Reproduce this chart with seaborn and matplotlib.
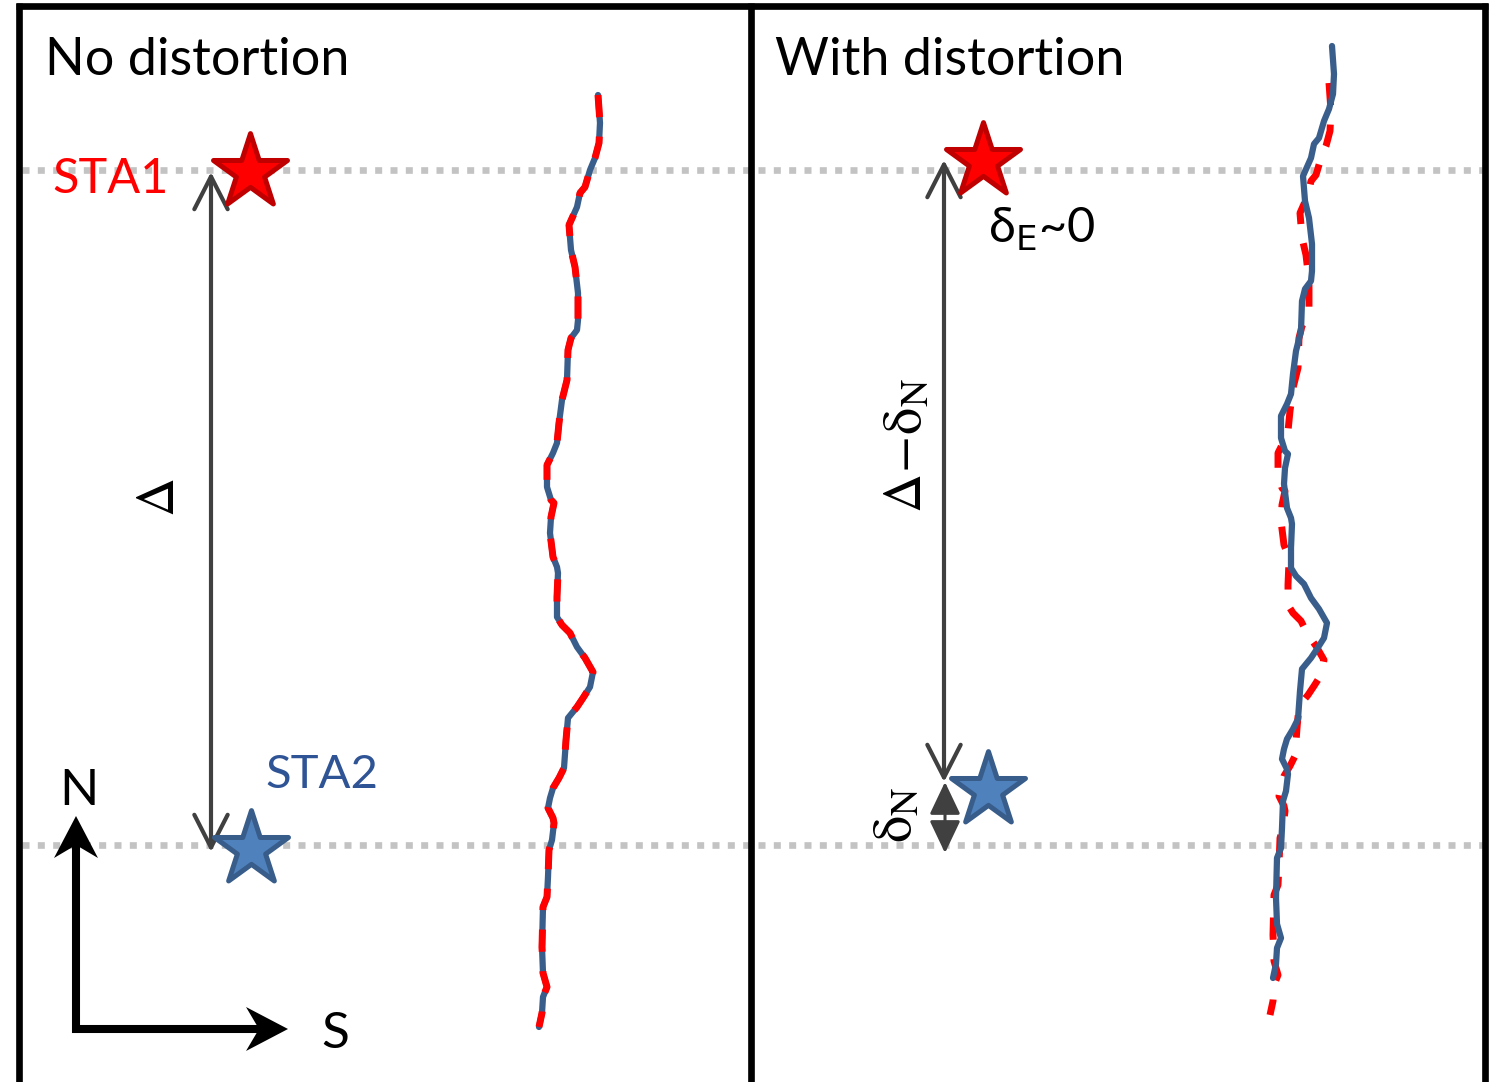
import matplotlib
matplotlib.use('Agg')  # headless
import numpy as np
import matplotlib.pyplot as plt
from matplotlib.patches import Polygon
import seaborn as sns

sns.set_theme(style='white')
plt.rcParams['font.family'] = ['Lato', 'DejaVu Sans']
plt.rcParams['text.color'] = 'black'

W, H = 1494, 1082

# trace (pixel coords, y down)
trace_x = [598, 600, 599, 595, 590, 585, 580, 577, 569, 571,
           575, 578, 578, 577, 571, 568, 567, 562, 559, 557,
           553, 547, 547, 551, 554, 551, 550, 553, 557, 558,
           557, 557, 562, 570, 577, 585, 593, 590, 583, 577,
           568, 566, 564, 559, 553, 550, 548, 553, 554, 552,
           549, 548, 547, 543, 542, 543, 547, 543, 542, 539]
trace_y = [95, 123, 143, 158, 170, 187, 193, 207, 225, 250,
           267, 293, 320, 330, 338, 350, 380, 400, 423, 443,
           453, 465, 487, 500, 503, 517, 533, 557, 567, 573,
           597, 617, 625, 633, 647, 658, 672, 687, 698, 707,
           718, 740, 768, 778, 788, 798, 808, 818, 823, 840,
           850, 877, 897, 907, 947, 973, 987, 997, 1013, 1027]

# the same trace as it sits in the right panel
blue_shift = (734, -49)
red_shift = (731, -12)

# stations
star_x = [250, 251, 983, 988]
star_y = [172, 849, 161, 790]
star_sta = ['STA1', 'STA2', 'STA1', 'STA2']

sta_levels = [170, 845]
panel_edges = [19, 751, 1485]

RED = '#ff0000'
BLUE_LINE = '#3a5e8c'
GREY = '#404040'

fig = plt.figure(figsize=(W / 100, H / 100), dpi=100)
ax = fig.add_axes([0, 0, 1, 1])
ax.set_xlim(0, W)
ax.set_ylim(H, 0)
ax.axis('off')

# frame
ax.plot([panel_edges[0] - 3, panel_edges[-1] + 3], [5.5, 5.5], color='black',
        linewidth=4.8, solid_capstyle='butt')
for xe in panel_edges:
    ax.plot([xe, xe], [3, H], color='black', linewidth=4.8, solid_capstyle='butt')

# station levels
for yl in sta_levels:
    ax.plot([22, 1482], [yl, yl], color='#c3c3c3', linewidth=4.8,
            linestyle=(0, (1.05, 1.25)), dash_capstyle='butt', zorder=1)

tx = np.array(trace_x, dtype=float)
ty = np.array(trace_y, dtype=float)


def trace(x, y, color, dashed, z):
    sns.lineplot(x=x, y=y, sort=False, estimator=None, ax=ax, color=color)
    line = ax.lines[-1]
    line.set_zorder(z)
    line.set_solid_joinstyle('round')
    if dashed:
        line.set_linewidth(5.0)
        line.set_linestyle((0, (3.2, 2.8)))
        line.set_dash_capstyle('butt')
    else:
        line.set_linewidth(4.5)


# left panel: red dashed on top of blue
trace(tx, ty, BLUE_LINE, False, 3)
trace(tx, ty, RED, True, 4)
# right panel: blue on top of red
trace(tx + red_shift[0], ty + red_shift[1], RED, True, 3)
trace(tx + blue_shift[0], ty + blue_shift[1], BLUE_LINE, False, 4)

# stars
star_fill = {'STA1': '#ff0000', 'STA2': '#4f81bd'}
star_edge = {'STA1': '#c00000', 'STA2': '#385d8a'}
for sx, sy, st in zip(star_x, star_y, star_sta):
    sns.scatterplot(x=[sx], y=[sy], ax=ax, marker='*', s=56 ** 2, color=star_fill[st],
                    edgecolor=star_edge[st], linewidth=3.6, zorder=6, legend=False)


def dbl_arrow(x, y0, y1):
    ax.annotate('', xy=(x, y1), xytext=(x, y0),
                arrowprops=dict(arrowstyle='<->,head_length=2.35,head_width=1.2',
                                color=GREY, lw=3.0, shrinkA=0, shrinkB=0,
                                mutation_scale=10), zorder=5)


dbl_arrow(211, 172, 852)
dbl_arrow(944, 160, 782)
ax.annotate('', xy=(945, 853), xytext=(945, 782),
            arrowprops=dict(arrowstyle='<|-|>,head_length=2.0,head_width=0.95',
                            color=GREY, lw=2.2, shrinkA=0, shrinkB=0,
                            mutation_scale=10), zorder=5)


# N / S axes with barbed heads
def barb_head(tip, direction, length=42, width=44, notch=13):
    d = np.array(direction, dtype=float)
    p = np.array([-d[1], d[0]])
    tip = np.array(tip, dtype=float)
    pts = [tip, tip - d * length + p * width / 2, tip - d * (length - notch),
           tip - d * length - p * width / 2]
    ax.add_patch(Polygon(pts, closed=True, facecolor='black', edgecolor='none', zorder=5))


ax.plot([76, 76, 262], [830, 1029, 1029], color='black', linewidth=5.8,
        solid_joinstyle='miter', solid_capstyle='butt')
barb_head((76, 816), (0, -1))
barb_head((288, 1029), (1, 0))

# labels
ax.text(45, 75, 'No distortion', fontsize=37.5, color='black', ha='left', va='baseline')
ax.text(775, 75, 'With distortion', fontsize=37.5, color='black', ha='left', va='baseline')
ax.text(52, 193, 'STA1', fontsize=35, color=RED, ha='left', va='baseline', zorder=7)
ax.text(265, 788, 'STA2', fontsize=34, color='#2f5496', ha='left', va='baseline')
ax.text(79, 805, 'N', fontsize=37, color='black', ha='center', va='baseline')
ax.text(335, 1048, 'S', fontsize=37, color='black', ha='center', va='baseline')
ax.text(158, 498, r'$\Delta$', fontsize=39, color='black', math_fontfamily='stix',
        rotation=90, ha='center', va='center')
ax.text(905, 445, r'$\Delta\!-\!\mathrm{\delta}_{\mathrm{N}}$', fontsize=39, color='black',
        math_fontfamily='stix', rotation=90, ha='center', va='center')
ax.text(895, 815, r'$\mathrm{\delta}_{\mathrm{N}}$', fontsize=39, color='black',
        math_fontfamily='stix', rotation=90, ha='center', va='center')
ax.text(988, 243, 'δ$_{\\mathrm{E}}$~0', fontsize=35, color='black',
        math_fontfamily='dejavusans', ha='left', va='baseline')

fig.savefig('out.png', dpi=100)
